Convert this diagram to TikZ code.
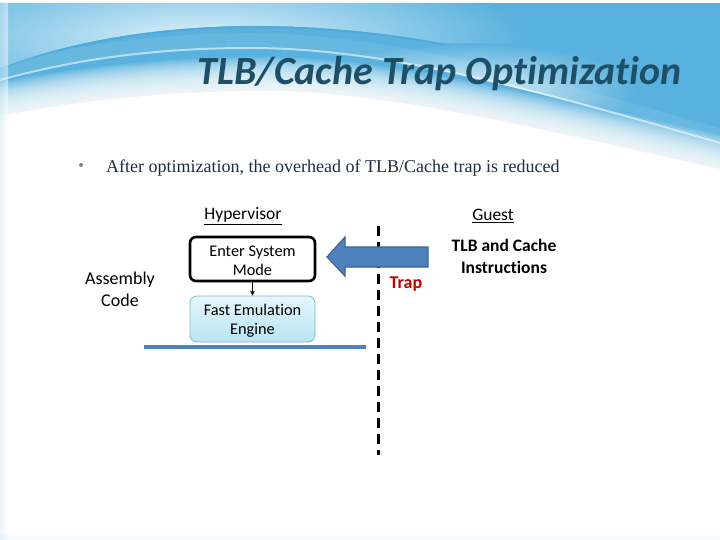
\documentclass[tikz,border=0pt]{standalone}
\usepackage{fontspec}
\setmainfont{Carlito}[Ligatures=NoCommon]
\newfontfamily\serifbody{Liberation Serif}
\usetikzlibrary{arrows.meta}
\definecolor{titleblue}{HTML}{1E4F66}
\definecolor{bodyblue}{HTML}{1F2D40}
\definecolor{skypale}{HTML}{DDF1FA}
\definecolor{skylight}{HTML}{CFEAF6}
\definecolor{skymid}{HTML}{7CC4E8}
\definecolor{skydeep}{HTML}{58B1DE}
\definecolor{skydark}{HTML}{4AA6D6}
\definecolor{arrowfill}{HTML}{4F81BD}
\definecolor{arrowline}{HTML}{3A6494}
\definecolor{engtop}{HTML}{E6F6FC}
\definecolor{engbot}{HTML}{B9E4F4}
\definecolor{engline}{HTML}{7EBCD1}
\definecolor{trapred}{HTML}{C00000}
\tikzset{
  lbl/.style={font=\fontsize{17.5}{20}\selectfont, align=center, inner sep=0pt},
  boldlbl/.style={font=\fontsize{17.5}{22}\selectfont\bfseries, align=center, inner sep=0pt},
  entrybox/.style={draw=black, line width=2.6pt, rounded corners=6pt, fill=white,
     minimum width=125pt, minimum height=44pt, align=center,
     font=\fontsize{16.3}{19}\selectfont, inner sep=0pt},
  engbox/.style={draw=engline, line width=0.8pt, rounded corners=7pt,
     top color=engtop, bottom color=engbot,
     minimum width=125pt, minimum height=46pt, align=center,
     font=\fontsize{16.3}{19}\selectfont, inner sep=0pt},
  bigarrow/.style={fill=arrowfill, draw=arrowline, line width=1.2pt, line join=miter},
}
\begin{document}
\begin{tikzpicture}[x=1pt,y=-1pt]
\useasboundingbox (0,0) rectangle (720,540);
\fill[white] (0,0) rectangle (720,540);
% background sky base
\fill[skydeep] (0,3) rectangle (720,220);
% pale region above the upper arc on the left
\begin{scope}
  \clip (0,3) -- (0,68) .. controls (60,45) and (140,28) .. (240,26)
     .. controls (330,25) and (420,35) .. (520,60) -- (520,3) -- cycle;
  \shade[inner color=skypale, outer color=skydeep] (200,38) ellipse (330pt and 75pt);
\end{scope}
% darker edge of the band
\draw[skydark, line width=2pt, opacity=0.6]
  (0,69) .. controls (60,46) and (140,29) .. (240,27)
  .. controls (330,26) and (420,36) .. (520,61);
% pale wedge above the lower stripe on the right
\begin{scope}
  \clip (250,49) .. controls (380,49) and (520,86) .. (720,144) -- (720,40) -- (250,40) -- cycle;
  \shade[inner color=white!85!skydeep, outer color=skydeep, opacity=0.9] (470,88) ellipse (170pt and 45pt);
\end{scope}
% glow above the lower stripe
\foreach \k in {0,...,10}{
  \draw[white, opacity=0.08, line width=1.6pt, yshift=1.4pt*\k]
    (0,80) .. controls (80,58) and (160,48) .. (250,48)
    .. controls (380,48) and (520,85) .. (720,143);
}
\draw[white, opacity=0.55, line width=2pt]
  (0,80) .. controls (80,58) and (160,48) .. (250,48)
  .. controls (380,48) and (520,85) .. (720,143);
% fade to white below
\foreach \k in {0,...,16}{
  \fill[white, opacity=0.13]
    (0,{114-2*\k}) .. controls (90,{97-2*\k}) and (180,{88-2*\k}) .. (280,{89-2*\k})
    .. controls (400,{92-2*\k}) and (560,{132-2*\k}) .. (720,{167-2*\k})
    -- (720,260) -- (0,260) -- cycle;
}
\fill[white]
  (0,116) .. controls (90,99) and (180,90) .. (280,91)
  .. controls (400,94) and (560,134) .. (720,169)
  -- (720,540) -- (0,540) -- cycle;
\shade[left color=skylight, right color=white, opacity=0.5] (0,3) rectangle (8,540);
\shade[top color=white, bottom color=skylight, opacity=0.25] (0,530) rectangle (720,540);
% title
\node[font=\fontsize{40}{44}\selectfont\bfseries\itshape, text=titleblue, inner sep=0pt] (title) at (439.5,74) {TLB/Cache Trap Optimization};
% bullet
\node[font=\fontsize{11}{12}\selectfont, text=gray, inner sep=0pt] (bullet) at (81,166) {•};
\node[font=\serifbody\fontsize{18}{20}\selectfont, text=bodyblue, anchor=west, inner sep=0pt] (bul) at (106,168) {After optimization, the overhead of TLB/Cache trap is reduced};
% headings
\node[lbl] (hyp) at (243,216) {\underline{Hypervisor}};
\node[lbl] (guest) at (493,216) {\underline{Guest}};
% boxes
\node[entrybox] (enter) at (252.5,259) {\rule{0pt}{14pt}Enter System\\Mode};
\node[engbox] (fast) at (252.5,319) {\rule{0pt}{15pt}Fast Emulation\\Engine};
\draw[-{Stealth[length=5pt,width=5pt]}, line width=1pt] (enter.south) -- (fast.north);
\node[lbl, font=\fontsize{18}{22}\selectfont] (asm) at (120,289) {Assembly\\Code};
% baseline
\coordinate (bl) at (144,347);
\coordinate (br) at (366,347);
\draw[arrowfill, line width=3.5pt] (bl) -- (br);
% dashed separator
\coordinate (dt) at (378,226);
\coordinate (db) at (378,455);
\draw[line width=3pt, dash pattern=on 10pt off 6pt] (dt) -- (db);
% big arrow
\draw[bigarrow] (428,247) -- (345,247) -- (345,237) -- (327,257) -- (345,276) -- (345,267) -- (428,267) -- cycle;
\node[boldlbl, font=\fontsize{18}{22}\selectfont\bfseries, text=trapred] (trap) at (406,284) {Trap};
\node[boldlbl] (instr) at (504,256) {TLB and Cache\\Instructions};
\end{tikzpicture}
\end{document}
